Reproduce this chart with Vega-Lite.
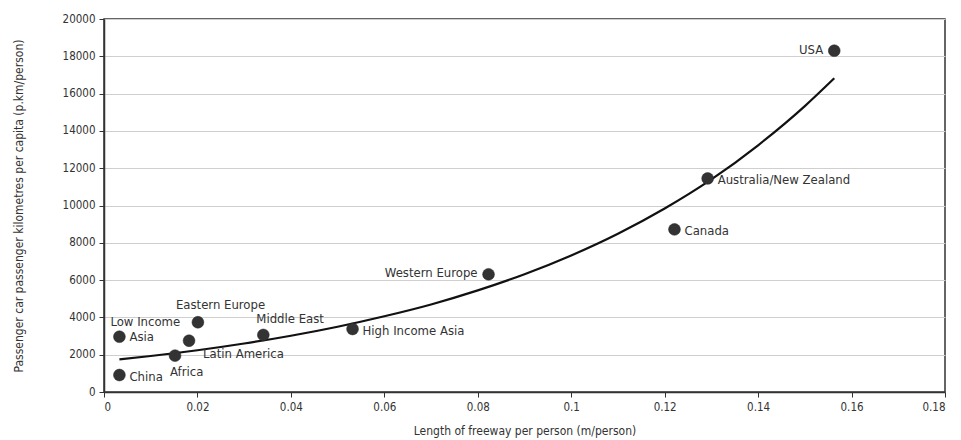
{
  "$schema": "https://vega.github.io/schema/vega-lite/v6.json",
  "width": 841,
  "height": 373,
  "autosize": {"type": "none"},
  "padding": {"left": 104, "top": 19, "right": 16, "bottom": 48},
  "background": "white",
  "config": {
    "font": "'DejaVu Sans Condensed', Roboto, sans-serif",
    "view": {"stroke": "#333", "strokeWidth": 1.5},
    "axis": {
      "domainColor": "#333",
      "domainWidth": 1.5,
      "tickColor": "#333",
      "tickSize": 5,
      "labelFont": "'DejaVu Sans Condensed', Roboto, sans-serif",
      "labelFontSize": 11.5,
      "labelColor": "#333",
      "titleFont": "'DejaVu Sans Condensed', Roboto, sans-serif",
      "titleFontSize": 12,
      "titleFontWeight": "normal",
      "titleColor": "#333",
      "gridColor": "#cfcfcf",
      "gridWidth": 1.2
    }
  },
  "datasets": {
    "pts": [
      {"region": "USA", "freeway": 0.1563, "pkm": 18300},
      {"region": "Australia/New Zealand", "freeway": 0.1292, "pkm": 11450},
      {"region": "Canada", "freeway": 0.1221, "pkm": 8720},
      {"region": "Western Europe", "freeway": 0.0823, "pkm": 6310},
      {"region": "High Income Asia", "freeway": 0.0532, "pkm": 3380},
      {"region": "Middle East", "freeway": 0.0341, "pkm": 3060},
      {"region": "Eastern Europe", "freeway": 0.0201, "pkm": 3740},
      {"region": "Latin America", "freeway": 0.0182, "pkm": 2750},
      {"region": "Africa", "freeway": 0.0152, "pkm": 1950},
      {"region": "Low Income Asia", "freeway": 0.0033, "pkm": 2965},
      {"region": "China", "freeway": 0.0033, "pkm": 910}
    ],
    "trend": [
      {"freeway": 0.0033, "pkm": 1753},
      {"freeway": 0.01, "pkm": 1930},
      {"freeway": 0.02, "pkm": 2239},
      {"freeway": 0.03, "pkm": 2600},
      {"freeway": 0.04, "pkm": 3016},
      {"freeway": 0.05, "pkm": 3500},
      {"freeway": 0.06, "pkm": 4062},
      {"freeway": 0.07, "pkm": 4695},
      {"freeway": 0.08, "pkm": 5448},
      {"freeway": 0.09, "pkm": 6316},
      {"freeway": 0.1, "pkm": 7323},
      {"freeway": 0.11, "pkm": 8487},
      {"freeway": 0.12, "pkm": 9840},
      {"freeway": 0.13, "pkm": 11400},
      {"freeway": 0.14, "pkm": 13230},
      {"freeway": 0.15, "pkm": 15330},
      {"freeway": 0.1563, "pkm": 16820}
    ]
  },
  "encoding": {
    "x": {
      "field": "freeway",
      "type": "quantitative",
      "scale": {"domain": [0, 0.18], "nice": false, "zero": true},
      "axis": {
        "title": "Length of freeway per person (m/person)",
        "values": [0, 0.02, 0.04, 0.06, 0.08, 0.1, 0.12, 0.14, 0.16, 0.18],
        "labelExpr": "datum.value === 0 ? '0' : format(datum.value, '.2~f')",
        "grid": false,
        "labelPadding": 4,
        "titlePadding": 13
      }
    },
    "y": {
      "field": "pkm",
      "type": "quantitative",
      "scale": {"domain": [0, 20000], "nice": false},
      "axis": {
        "title": "Passenger car passenger kilometres per capita (p.km/person)",
        "values": [0, 2000, 4000, 6000, 8000, 10000, 12000, 14000, 16000, 18000, 20000],
        "format": "d",
        "grid": true,
        "labelPadding": 4,
        "titlePadding": 40,
        "titleX": -79
      }
    }
  },
  "layer": [
    {
      "data": {"name": "trend"},
      "mark": {"type": "line", "color": "#111", "strokeWidth": 2.2, "interpolate": "monotone"}
    },
    {
      "data": {"name": "pts"},
      "mark": {"type": "circle", "size": 140, "color": "#333", "opacity": 1, "stroke": "#222", "strokeWidth": 0.5}
    },
    {
      "data": {"name": "pts"},
      "transform": [{"filter": "indexof(['Australia/New Zealand','Canada','High Income Asia','China'], datum.region) >= 0"}],
      "mark": {"type": "text", "align": "left", "baseline": "middle", "dx": 10, "dy": 2, "fontSize": 13, "color": "#333"},
      "encoding": {"text": {"field": "region"}}
    },
    {
      "data": {"name": "pts"},
      "transform": [{"filter": "indexof(['USA','Western Europe'], datum.region) >= 0"}],
      "mark": {"type": "text", "align": "right", "baseline": "middle", "dx": -11, "dy": -1, "fontSize": 13, "color": "#333"},
      "encoding": {"text": {"field": "region"}}
    },
    {
      "data": {"name": "pts"},
      "transform": [{"filter": "datum.region === 'Low Income Asia'"}],
      "mark": {"type": "text", "align": "left", "baseline": "middle", "dx": 10, "dy": 0, "fontSize": 13, "color": "#333"},
      "encoding": {"text": {"value": "Asia"}}
    },
    {
      "data": {"name": "pts"},
      "transform": [{"filter": "datum.region === 'Low Income Asia'"}],
      "mark": {"type": "text", "align": "left", "baseline": "middle", "dx": -9, "dy": -15, "fontSize": 13, "color": "#333"},
      "encoding": {"text": {"value": "Low Income"}}
    },
    {
      "data": {"name": "pts"},
      "transform": [{"filter": "datum.region === 'Middle East'"}],
      "mark": {"type": "text", "align": "left", "baseline": "middle", "dx": -7, "dy": -16, "fontSize": 13, "color": "#333"},
      "encoding": {"text": {"field": "region"}}
    },
    {
      "data": {"name": "pts"},
      "transform": [{"filter": "datum.region === 'Eastern Europe'"}],
      "mark": {"type": "text", "align": "left", "baseline": "middle", "dx": -22, "dy": -17, "fontSize": 13, "color": "#333"},
      "encoding": {"text": {"field": "region"}}
    },
    {
      "data": {"name": "pts"},
      "transform": [{"filter": "datum.region === 'Latin America'"}],
      "mark": {"type": "text", "align": "left", "baseline": "middle", "dx": 14, "dy": 13, "fontSize": 13, "color": "#333"},
      "encoding": {"text": {"field": "region"}}
    },
    {
      "data": {"name": "pts"},
      "transform": [{"filter": "datum.region === 'Africa'"}],
      "mark": {"type": "text", "align": "left", "baseline": "middle", "dx": -5, "dy": 16, "fontSize": 13, "color": "#333"},
      "encoding": {"text": {"field": "region"}}
    }
  ]
}
